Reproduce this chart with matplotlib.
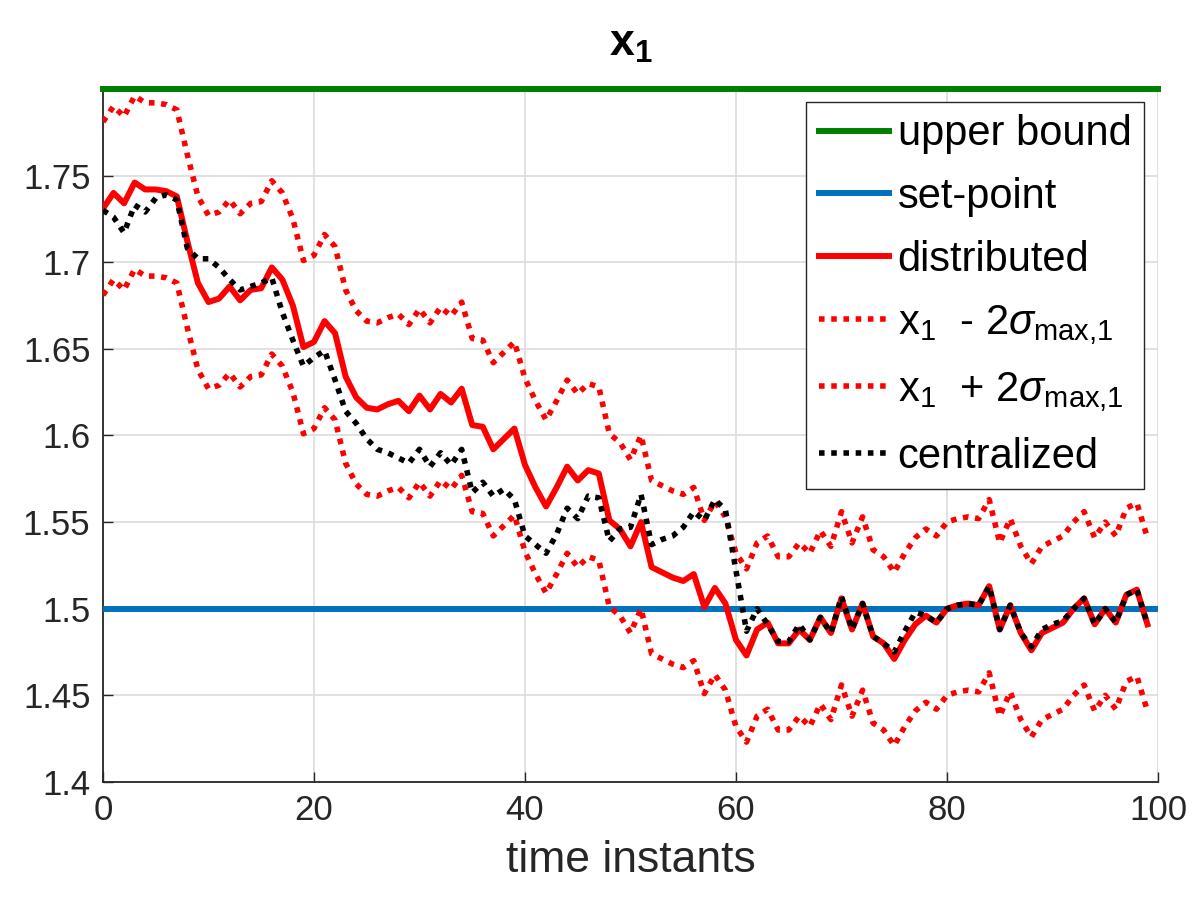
import numpy as np
import matplotlib
matplotlib.use('Agg')
import matplotlib.pyplot as plt

plt.rcParams['font.family'] = ['Liberation Sans', 'DejaVu Sans']
plt.rcParams['mathtext.fontset'] = 'custom'
plt.rcParams['mathtext.rm'] = 'Liberation Sans'
plt.rcParams['mathtext.it'] = 'Liberation Sans:italic'
plt.rcParams['mathtext.bf'] = 'Liberation Sans:bold'

# time instants 0..99
t = np.arange(100)

upper_bound = 1.8
set_point = 1.5

distributed = [
    1.731, 1.740, 1.734, 1.746, 1.742, 1.742, 1.741, 1.738, 1.712, 1.688,
    1.677, 1.679, 1.686, 1.678, 1.684, 1.685, 1.697, 1.690, 1.675, 1.651,
    1.654, 1.666, 1.659, 1.634, 1.622, 1.616, 1.615, 1.618, 1.620, 1.614,
    1.623, 1.615, 1.624, 1.619, 1.627, 1.606, 1.605, 1.592, 1.598, 1.604,
    1.583, 1.570, 1.559, 1.570, 1.582, 1.574, 1.580, 1.578, 1.551, 1.546,
    1.536, 1.550, 1.524, 1.521, 1.518, 1.516, 1.520, 1.501, 1.512, 1.503,
    1.482, 1.473, 1.488, 1.492, 1.480, 1.480, 1.488, 1.482, 1.495, 1.486,
    1.506, 1.488, 1.503, 1.484, 1.480, 1.471, 1.482, 1.491, 1.496, 1.492,
    1.500, 1.502, 1.503, 1.502, 1.513, 1.488, 1.502, 1.486, 1.476, 1.486,
    1.489, 1.492, 1.500, 1.506, 1.491, 1.500, 1.492, 1.508, 1.511, 1.491,
]

lower_band = [
    1.681, 1.690, 1.684, 1.696, 1.692, 1.692, 1.691, 1.688, 1.662, 1.638,
    1.627, 1.629, 1.636, 1.628, 1.634, 1.635, 1.647, 1.640, 1.625, 1.601,
    1.604, 1.616, 1.609, 1.584, 1.572, 1.566, 1.565, 1.568, 1.570, 1.564,
    1.573, 1.565, 1.574, 1.569, 1.577, 1.556, 1.555, 1.542, 1.548, 1.554,
    1.533, 1.520, 1.509, 1.520, 1.532, 1.524, 1.530, 1.528, 1.501, 1.496,
    1.486, 1.500, 1.474, 1.471, 1.468, 1.466, 1.470, 1.451, 1.462, 1.453,
    1.432, 1.423, 1.438, 1.442, 1.430, 1.430, 1.438, 1.432, 1.445, 1.436,
    1.456, 1.438, 1.453, 1.434, 1.430, 1.421, 1.432, 1.441, 1.446, 1.442,
    1.450, 1.452, 1.453, 1.452, 1.463, 1.438, 1.452, 1.436, 1.426, 1.436,
    1.439, 1.442, 1.450, 1.456, 1.441, 1.450, 1.442, 1.458, 1.461, 1.441,
]

upper_band = [
    1.781, 1.790, 1.784, 1.796, 1.792, 1.792, 1.791, 1.788, 1.762, 1.738,
    1.727, 1.729, 1.736, 1.728, 1.734, 1.735, 1.747, 1.740, 1.725, 1.701,
    1.704, 1.716, 1.709, 1.684, 1.672, 1.666, 1.665, 1.668, 1.670, 1.664,
    1.673, 1.665, 1.674, 1.669, 1.677, 1.656, 1.655, 1.642, 1.648, 1.654,
    1.633, 1.620, 1.609, 1.620, 1.632, 1.624, 1.630, 1.628, 1.601, 1.596,
    1.586, 1.600, 1.574, 1.571, 1.568, 1.566, 1.570, 1.551, 1.562, 1.553,
    1.532, 1.523, 1.538, 1.542, 1.530, 1.530, 1.538, 1.532, 1.545, 1.536,
    1.556, 1.538, 1.553, 1.534, 1.530, 1.521, 1.532, 1.541, 1.546, 1.542,
    1.550, 1.552, 1.553, 1.552, 1.563, 1.538, 1.552, 1.536, 1.526, 1.536,
    1.539, 1.542, 1.550, 1.556, 1.541, 1.550, 1.542, 1.558, 1.561, 1.541,
]

centralized = [
    1.730, 1.726, 1.717, 1.733, 1.729, 1.737, 1.739, 1.736, 1.708, 1.702,
    1.702, 1.697, 1.690, 1.684, 1.686, 1.688, 1.691, 1.671, 1.655, 1.640,
    1.645, 1.649, 1.632, 1.614, 1.607, 1.598, 1.592, 1.590, 1.587, 1.584,
    1.592, 1.582, 1.590, 1.583, 1.592, 1.567, 1.573, 1.565, 1.569, 1.563,
    1.542, 1.537, 1.532, 1.543, 1.558, 1.552, 1.565, 1.564, 1.539, 1.546,
    1.547, 1.566, 1.537, 1.540, 1.542, 1.547, 1.556, 1.551, 1.563, 1.557,
    1.522, 1.487, 1.500, 1.491, 1.481, 1.481, 1.491, 1.482, 1.495, 1.486,
    1.507, 1.488, 1.503, 1.484, 1.480, 1.475, 1.487, 1.498, 1.496, 1.492,
    1.500, 1.502, 1.503, 1.502, 1.513, 1.488, 1.502, 1.486, 1.478, 1.488,
    1.491, 1.493, 1.500, 1.506, 1.491, 1.500, 1.492, 1.508, 1.511, 1.491,
]

xticks = [0, 20, 40, 60, 80, 100]
yticks = [1.4, 1.45, 1.5, 1.55, 1.6, 1.65, 1.7, 1.75]
ytick_labels = ['1.4', '1.45', '1.5', '1.55', '1.6', '1.65', '1.7', '1.75']

fig = plt.figure(figsize=(11.96, 9.06), dpi=100)
ax = fig.add_axes([0.0861, 0.1369, 0.8821, 0.7649])

solid_lw = 4.3
dot_lw = 4.0
dots = (0, (1, 1.2))

ax.plot([0, 100], [upper_bound, upper_bound], color='#008000', lw=solid_lw,
        label='upper bound', clip_on=False, zorder=3)
ax.plot([0, 100], [set_point, set_point], color='#0072BD', lw=solid_lw,
        label='set-point', zorder=3)
ax.plot(t, distributed, color='red', lw=solid_lw, label='distributed', zorder=3)
ax.plot(t, lower_band, color='red', lw=dot_lw, linestyle=dots,
        label=r'x$_1$  - 2$\sigma_{\rm max{,}1}$', zorder=3)
ax.plot(t, upper_band, color='red', lw=dot_lw, linestyle=dots,
        label=r'x$_1$  + 2$\sigma_{\rm max{,}1}$', zorder=3)
ax.plot(t, centralized, color='black', lw=dot_lw, linestyle=dots,
        label='centralized', zorder=4)

ax.set_xlim(0, 100)
ax.set_ylim(1.4, 1.8)
ax.set_xticks(xticks)
ax.set_yticks(yticks)
ax.set_yticklabels(ytick_labels)
ax.tick_params(direction='in', length=7, width=1, labelsize=25,
               colors='#262626', pad=9)
ax.grid(True, color='#dcdcdc', lw=1.2)
ax.set_axisbelow(True)
for side in ['top', 'right']:
    ax.spines[side].set_visible(False)
for side in ['left', 'bottom']:
    ax.spines[side].set_color('#262626')
    ax.spines[side].set_linewidth(1.3)

ax.set_xlabel('time instants', fontsize=32, color='#262626', labelpad=9)
ax.set_title(r'$\mathbf{x}_\mathbf{1}$', fontsize=32, pad=24)

leg = ax.legend(loc='upper right', bbox_to_anchor=(0.9867, 0.9817),
                borderaxespad=0, fontsize=30, handlelength=1.7,
                handletextpad=0.2, labelspacing=0.55, borderpad=0.3,
                fancybox=False, framealpha=1)
leg.get_frame().set_edgecolor('#262626')
leg.get_frame().set_linewidth(1.0)

fig.savefig('out.png', dpi=100)
